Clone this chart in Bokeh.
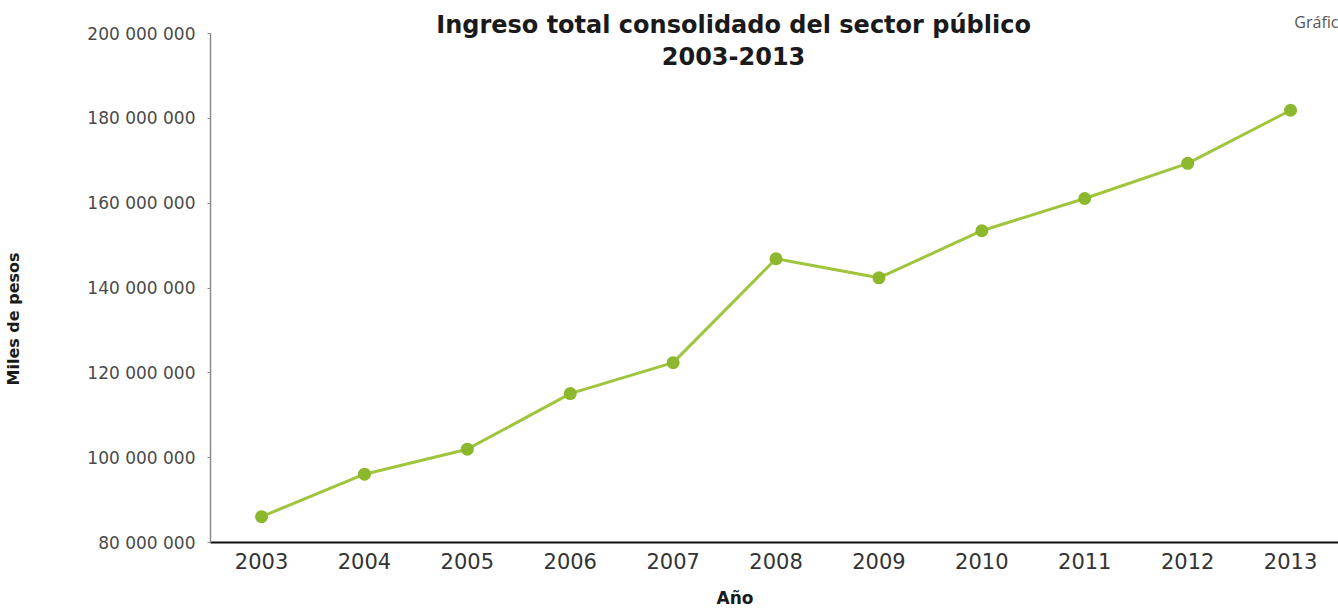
from bokeh.plotting import figure
from bokeh.models import Label, FixedTicker, Range1d, LinearAxis, Title
from bokeh.embed import file_html
from bokeh.resources import INLINE

years = [2003, 2004, 2005, 2006, 2007, 2008, 2009, 2010, 2011, 2012, 2013]
ingreso = [86100000, 96100000, 102000000, 115100000, 122400000, 146900000,
           142400000, 153500000, 161100000, 169400000, 181900000]
y_ticks = [80000000, 100000000, 120000000, 140000000, 160000000, 180000000, 200000000]

title_1 = "Ingreso total consolidado del sector público"
title_2 = "2003-2013"
y_title = "Miles de pesos"
x_title = "Año"
corner = "Gráfic"

p = figure(width=1338, height=608, output_backend="svg", toolbar_location=None,
           x_range=Range1d(2002.504, 2013.466), y_range=Range1d(80000000, 207780000),
           min_border_left=210, min_border_right=0, min_border_top=0, min_border_bottom=66)
p.outline_line_color = None
p.xgrid.visible = False
p.ygrid.visible = False
p.background_fill_color = "white"
p.border_fill_color = "white"

p.line(years, ingreso, line_color="#9fc53c", line_width=3)
p.scatter(years, ingreso, size=13, fill_color="#8cb82e", line_color=None)

# x axis
xa = p.xaxis[0]
xa.ticker = FixedTicker(ticks=years)
xa.axis_line_color = "#111111"
xa.axis_line_width = 2
xa.major_tick_line_color = None
xa.minor_tick_line_color = None
xa.major_label_text_font = "DejaVu Sans"
xa.major_label_text_font_size = "21px"
xa.major_label_text_color = "#333333"
xa.major_label_standoff = 4

# y axis
ya = p.yaxis[0]
ya.ticker = FixedTicker(ticks=y_ticks)
ya.bounds = (80000000, 200000000)
ya.major_label_overrides = {v: f"{v:,}".replace(",", " ") for v in y_ticks}
ya.axis_line_color = "#8a8a8a"
ya.axis_line_width = 1.5
ya.major_tick_line_color = "#8a8a8a"
ya.major_tick_out = 3
ya.major_tick_in = 0
ya.minor_tick_line_color = None
ya.major_label_text_font = "DejaVu Sans"
ya.major_label_text_font_size = "17px"
ya.major_label_text_color = "#4a4a4a"
ya.major_label_standoff = 12


def spacer(size):
    # an empty axis that only reserves room, so that the axis titles sit where the reference has them
    return LinearAxis(ticker=FixedTicker(ticks=[]), axis_line_color=None,
                      major_tick_line_color=None, minor_tick_line_color=None,
                      axis_label=" ", axis_label_text_font_size="1px",
                      axis_label_standoff=size)


p.add_layout(spacer(58), "left")
p.add_layout(Title(text=y_title, align="left", offset=157, standoff=0,
                   text_font="DejaVu Sans", text_font_style="bold",
                   text_font_size="16px", text_color="#1a1a1a"), "left")
p.add_layout(spacer(10), "below")
p.add_layout(Title(text=x_title, align="left", offset=506, standoff=0,
                   text_font="DejaVu Sans", text_font_style="bold",
                   text_font_size="17px", text_color="#1a1a1a"), "below")

common = dict(text_font="DejaVu Sans", text_font_style="bold", text_color="#1a1a1a",
              text_align="center", text_baseline="middle")
p.add_layout(Label(x=2007.587, y=202120000, text=title_1, text_font_size="24px", **common))
p.add_layout(Label(x=2007.587, y=194810000, text=title_2, text_font_size="24px", **common))
p.add_layout(Label(x=2013.466, y=202700000, text=corner, text_font="Open Sans",
                   text_font_size="16px", text_color="#555555", text_align="right",
                   text_baseline="middle"))

open("out.html", "w").write(file_html(p, INLINE))
